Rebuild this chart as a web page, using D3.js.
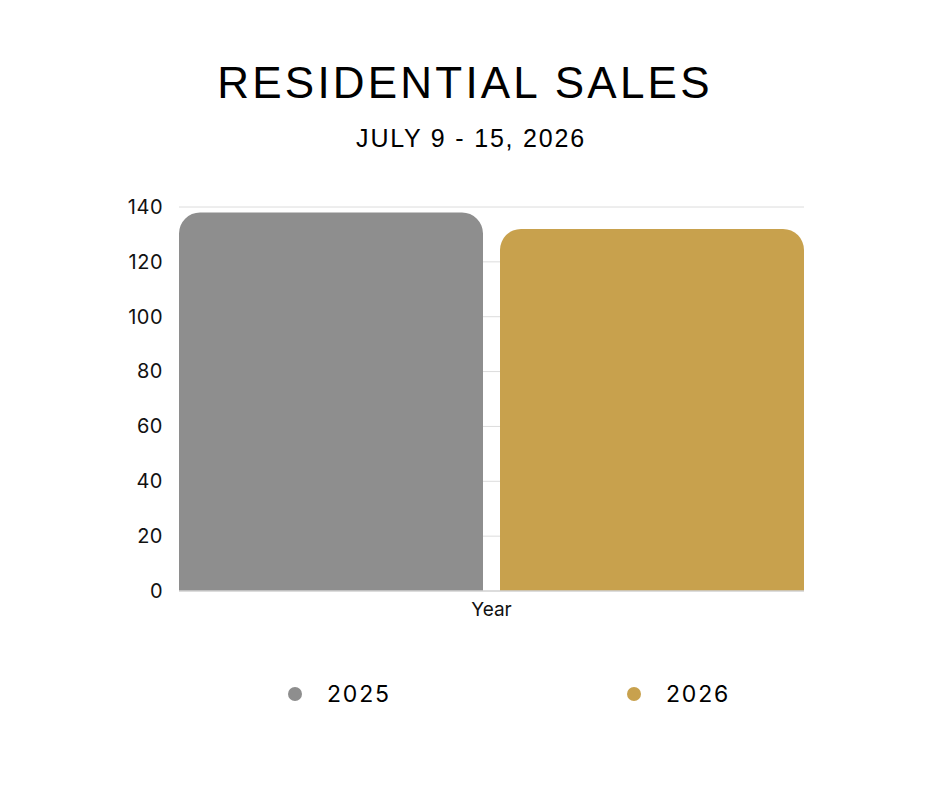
<!DOCTYPE html>
<html>
<head>
<meta charset="utf-8">
<script src="https://cdn.jsdelivr.net/npm/d3@7"></script>
<style>
  body { margin: 0; background: #fff; }
  svg { display: block; }
</style>
</head>
<body>
<svg id="chart"></svg>
<script>
// Chart data
const categories = ["2025", "2026"];
const sales = [138, 132];
const colors = ["#8e8e8e", "#c8a14d"];
const yTicks = [0, 20, 40, 60, 80, 100, 120, 140];

const W = 940, H = 788;
const margin = { top: 207, right: 136, bottom: 197, left: 179 };
const width = W - margin.left - margin.right;
const height = H - margin.top - margin.bottom;

const svg = d3.select("#chart").attr("width", W).attr("height", H);

// Titles
svg.append("text")
  .attr("x", 465).attr("y", 98)
  .attr("text-anchor", "middle")
  .style("font-family", "Liberation Sans, Arial, sans-serif")
  .style("font-size", "44px")
  .style("letter-spacing", "3.2px")
  .style("fill", "#000")
  .text("RESIDENTIAL SALES");

svg.append("text")
  .attr("x", 471).attr("y", 147)
  .attr("text-anchor", "middle")
  .style("font-family", "Liberation Sans, Arial, sans-serif")
  .style("font-size", "25px")
  .style("letter-spacing", "1.8px")
  .style("fill", "#000")
  .text("JULY 9 - 15, 2026");

const g = svg.append("g")
  .attr("transform", "translate(" + margin.left + "," + margin.top + ")");

const x = d3.scaleBand()
  .domain(categories)
  .range([0, width])
  .paddingInner(0.053)
  .paddingOuter(0);

const y = d3.scaleLinear()
  .domain([0, 140])
  .range([height, 0]);

// Gridlines
g.selectAll(".grid")
  .data(yTicks.filter(d => d > 0))
  .enter()
  .append("line")
  .attr("x1", 0).attr("x2", width)
  .attr("y1", d => y(d)).attr("y2", d => y(d))
  .style("stroke", "#dcdcdc")
  .style("stroke-width", 1);

// Y axis labels
const yAxis = g.append("g")
  .call(d3.axisLeft(y).tickValues(yTicks).tickSize(0).tickPadding(16));
yAxis.select(".domain").remove();
yAxis.selectAll("text")
  .style("font-family", "Inter, sans-serif")
  .style("font-size", "20px")
  .style("letter-spacing", "0.5px")
  .style("fill", "#111");

// Bars with rounded top corners
const r = 21;
function barPath(x0, w, yTop, yBase) {
  const rr = Math.min(r, w / 2, yBase - yTop);
  return "M" + x0 + "," + yBase +
    "V" + (yTop + rr) +
    "A" + rr + "," + rr + " 0 0 1 " + (x0 + rr) + "," + yTop +
    "H" + (x0 + w - rr) +
    "A" + rr + "," + rr + " 0 0 1 " + (x0 + w) + "," + (yTop + rr) +
    "V" + yBase + "Z";
}

g.selectAll(".bar")
  .data(categories)
  .enter()
  .append("path")
  .attr("class", "bar")
  .attr("d", (d, i) => barPath(x(d), x.bandwidth(), y(sales[i]), y(0)))
  .style("fill", (d, i) => colors[i]);

// Baseline
g.append("line")
  .attr("x1", 0).attr("x2", width)
  .attr("y1", y(0)).attr("y2", y(0))
  .style("stroke", "#d0d0d0")
  .style("stroke-width", 1.5);

// X axis title
g.append("text")
  .attr("x", width / 2).attr("y", height + 25)
  .attr("text-anchor", "middle")
  .style("font-family", "Inter, sans-serif")
  .style("font-size", "19px")
  .style("fill", "#111")
  .text("Year");

// Legend
const legendX = [295, 634];
const legend = svg.selectAll(".legend")
  .data(categories)
  .enter()
  .append("g")
  .attr("class", "legend")
  .attr("transform", (d, i) => "translate(" + legendX[i] + ",694)");

legend.append("circle")
  .attr("r", 7)
  .style("fill", (d, i) => colors[i]);

legend.append("text")
  .attr("x", 32).attr("y", 8)
  .style("font-family", "Inter, sans-serif")
  .style("font-size", "23px")
  .style("letter-spacing", "1.8px")
  .style("fill", "#000")
  .text(d => d);
</script>
</body>
</html>
